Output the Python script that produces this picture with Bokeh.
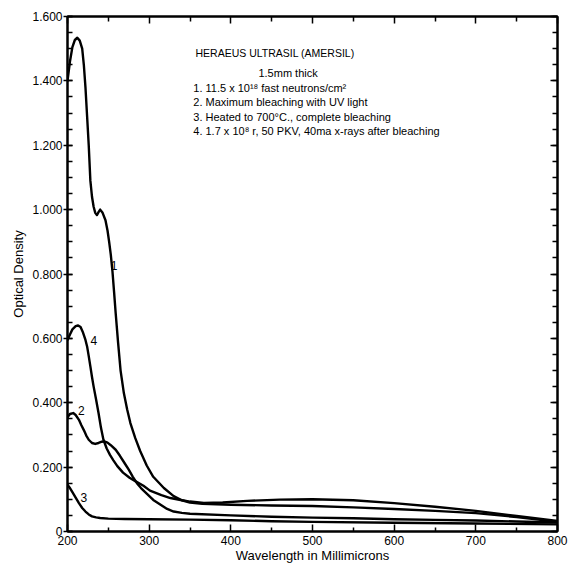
from bokeh.plotting import figure
from bokeh.models import LinearAxis, FixedTicker, Label, Range1d
from bokeh.embed import file_html
from bokeh.resources import INLINE

# ---- data (wavelength in millimicrons, optical density) ----
wl_1 = [200, 203, 206, 209, 212, 215, 218, 220, 222, 224, 226, 228, 230, 232, 234, 236, 238, 240,
        243, 246.5, 249, 251, 253, 255, 257, 259, 262, 265, 269, 273, 277, 283, 289, 297, 305, 318,
        330, 340, 350, 365, 400, 450, 500, 550, 600, 650, 700, 750, 800]
od_1 = [1.40, 1.46, 1.505, 1.527, 1.534, 1.525, 1.50, 1.45, 1.38, 1.29, 1.20, 1.09, 1.04, 1.009, 0.99,
        0.983, 0.992, 1.000, 0.99, 0.967, 0.935, 0.90, 0.86, 0.81, 0.745, 0.678, 0.585, 0.50, 0.43,
        0.38, 0.337, 0.29, 0.25, 0.205, 0.17, 0.135, 0.110, 0.097, 0.090, 0.086, 0.083, 0.081, 0.079,
        0.075, 0.070, 0.064, 0.057, 0.045, 0.030]

wl_2 = [200, 203, 207, 210, 214, 217, 220, 223, 226, 230, 234, 238, 242, 245, 249, 253, 259, 264,
        270, 275, 280, 285, 290, 297, 305, 314, 322, 330, 340, 350, 400, 450, 500, 550, 600, 650,
        700, 750, 800]
od_2 = [0.355, 0.365, 0.368, 0.362, 0.347, 0.33, 0.315, 0.298, 0.285, 0.275, 0.272, 0.275, 0.279,
        0.28, 0.276, 0.268, 0.254, 0.236, 0.212, 0.192, 0.17, 0.150, 0.135, 0.118, 0.098, 0.083,
        0.07, 0.062, 0.058, 0.055, 0.050, 0.046, 0.043, 0.041, 0.038, 0.036, 0.034, 0.031, 0.028]

wl_3 = [200, 203, 206, 210, 214, 218, 222, 226, 230, 235, 240, 250, 270, 300, 350, 400, 450, 500,
        600, 700, 800]
od_3 = [0.145, 0.135, 0.122, 0.105, 0.088, 0.073, 0.062, 0.053, 0.047, 0.044, 0.042, 0.040, 0.039,
        0.038, 0.037, 0.035, 0.032, 0.030, 0.027, 0.025, 0.022]

wl_4 = [200, 203, 206, 210, 213, 216, 219, 222, 224, 226, 228, 230, 232, 235, 238, 241, 244, 248,
        252, 256, 261, 268, 276, 284, 293, 301, 315, 326, 340, 350, 367, 390, 420, 460, 500, 550,
        600, 650, 700, 750, 800]
od_4 = [0.595, 0.612, 0.628, 0.638, 0.640, 0.635, 0.618, 0.595, 0.575, 0.545, 0.513, 0.48, 0.45,
        0.41, 0.368, 0.322, 0.285, 0.258, 0.238, 0.222, 0.203, 0.183, 0.167, 0.155, 0.142, 0.127,
        0.113, 0.104, 0.097, 0.093, 0.089, 0.090, 0.095, 0.099, 0.100, 0.097, 0.088, 0.077, 0.064,
        0.048, 0.033]

x_ticks = [200, 300, 400, 500, 600, 700, 800]
x_minor = [250, 350, 450, 550, 650, 750]
y_ticks = [0, 0.2, 0.4, 0.6, 0.8, 1.0, 1.2, 1.4, 1.6]
y_tick_labels = ["0", "0.200", "0.400", "0.600", "0.800", "1.000", "1.200", "1.400", "1.600"]
y_minor = [i * 0.05 for i in range(33)]

curve_names = ["1", "2", "3", "4"]
title_lines = ["HERAEUS ULTRASIL (AMERSIL)", "1.5mm thick"]
legend_lines = [
    "1. 11.5 x 10\u00b9\u2078 fast neutrons/cm\u00b2",
    "2. Maximum bleaching with UV light",
    "3. Heated to 700\u00b0C., complete bleaching",
    "4. 1.7 x 10\u2078 r, 50 PKV, 40ma x-rays after bleaching",
]

FONT = "Liberation Sans"

p = figure(width=568, height=565, x_range=Range1d(200, 800), y_range=Range1d(0, 1.6),
           output_backend="svg", toolbar_location=None,
           min_border_left=67, min_border_right=11, min_border_top=16, min_border_bottom=33)
p.background_fill_color = "white"
p.border_fill_color = "white"
p.outline_line_color = "black"
p.outline_line_width = 2
p.grid.visible = False

for wl, od in [(wl_1, od_1), (wl_2, od_2), (wl_3, od_3), (wl_4, od_4)]:
    p.line(wl, od, line_color="black", line_width=2.4, line_join="round", line_cap="round")

# bottom axis
xa = p.xaxis[0]
xa.ticker = FixedTicker(ticks=x_ticks, minor_ticks=x_minor)
xa.major_tick_in = 7
xa.major_tick_out = 0
xa.minor_tick_in = 4
xa.minor_tick_out = 0
xa.axis_line_width = 2
xa.major_tick_line_width = 1.5
xa.minor_tick_line_width = 1.5
xa.major_label_text_font = FONT
xa.major_label_text_font_size = "12px"
xa.major_label_text_color = "black"
xa.major_label_standoff = 4
xa.axis_label = "Wavelength in Millimicrons"
xa.axis_label_text_font = FONT
xa.axis_label_text_font_size = "13px"
xa.axis_label_text_font_style = "normal"
xa.axis_label_text_color = "black"
xa.axis_label_standoff = 0

# left axis
ya = p.yaxis[0]
ya.ticker = FixedTicker(ticks=y_ticks, minor_ticks=y_minor)
ya.major_label_overrides = {t: s for t, s in zip(y_ticks, y_tick_labels)}
ya.major_tick_in = 5
ya.major_tick_out = 4
ya.minor_tick_in = 5
ya.minor_tick_out = 0
ya.axis_line_width = 2
ya.major_tick_line_width = 1.5
ya.minor_tick_line_width = 1.5
ya.major_label_text_font = FONT
ya.major_label_text_font_size = "12px"
ya.major_label_text_color = "black"
ya.major_label_standoff = 1
ya.axis_label = "Optical Density"
ya.axis_label_text_font = FONT
ya.axis_label_text_font_size = "13px"
ya.axis_label_text_font_style = "normal"
ya.axis_label_text_color = "black"
ya.axis_label_standoff = 3

# top and right axes: ticks only
top = LinearAxis(ticker=FixedTicker(ticks=x_ticks, minor_ticks=x_minor),
                 major_label_overrides={t: "" for t in x_ticks})
right = LinearAxis(ticker=FixedTicker(ticks=y_ticks, minor_ticks=y_minor),
                   major_label_overrides={t: "" for t in y_ticks})
for ax in (top, right):
    ax.major_tick_in = 7
    ax.major_tick_out = 0
    ax.minor_tick_in = 5
    ax.minor_tick_out = 0
    ax.axis_line_width = 2
    ax.major_tick_line_width = 1.5
    ax.minor_tick_line_width = 1.5
    ax.major_label_text_font_size = "6px"
    ax.major_label_text_alpha = 0
    ax.major_label_standoff = 0
p.add_layout(top, "above")
p.add_layout(right, "right")

# annotation block
p.add_layout(Label(x=356.7, y=1.488, text=title_lines[0], text_font=FONT, text_font_size="10.5px",
                   text_baseline="middle", text_align="left", text_color="black"))
p.add_layout(Label(x=433.8, y=1.426, text=title_lines[1], text_font=FONT, text_font_size="11px",
                   text_baseline="middle", text_align="left", text_color="black"))
for line, yy in zip(legend_lines, [1.377, 1.333, 1.287, 1.243]):
    p.add_layout(Label(x=354, y=yy, text=line, text_font=FONT, text_font_size="11px",
                       text_baseline="middle", text_align="left", text_color="black"))

# curve number labels
for name, xx, yy in zip(curve_names, [257, 217, 220, 232.4], [0.826, 0.377, 0.107, 0.592]):
    p.add_layout(Label(x=xx, y=yy, text=name, text_font=FONT, text_font_size="12px",
                       text_baseline="middle", text_align="center", text_color="black"))

open("out.html", "w").write(file_html(p, INLINE))
